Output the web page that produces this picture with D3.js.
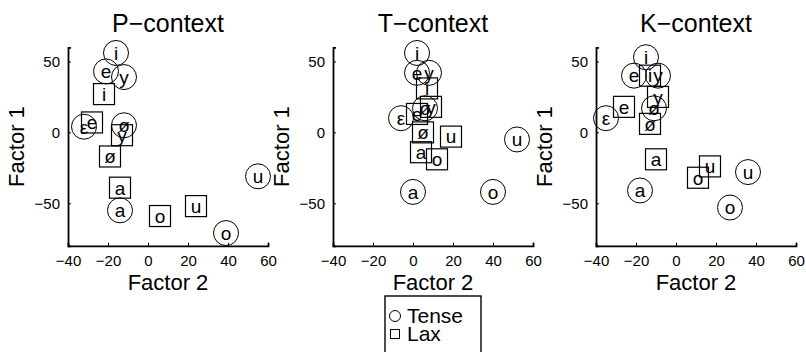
<!DOCTYPE html>
<html><head><meta charset="utf-8">
<script src="https://cdn.jsdelivr.net/npm/d3@7"></script>
<style>body{margin:0;background:#fff}svg{display:block}text{font-family:"Liberation Sans",Arial,sans-serif;fill:#000}</style>
</head><body><svg id="c" width="806" height="352"></svg>
<script>
const contexts = ["P\u2212context", "T\u2212context", "K\u2212context"];
const tenseVowels = ["i", "e", "y", "\u03b5", "\u00f8", "a", "o", "u"];
const laxVowels = ["i", "e", "y", "\u00f8", "a", "o", "u"];
// Factor 2 (x) and Factor 1 (y) per context
const tenseX = [[-16, -21, -12, -32, -12, -14, 39, 55], [2, 2, 8, -6, 6, 0, 40, 52], [-15, -21, -9, -35, -11, -18, 27, 36]];
const tenseY = [[56, 43, 39, 4, 5, -55, -71, -31], [56, 42, 42, 10, 17, -42, -42, -5], [53, 40, 40, 10, 17, -41, -53, -28]];
const laxX = [[-22, -28, -13, -19, -14, 6, 24], [7, 2, 9, 5, 4, 12, 19], [-13, -26, -9, -13, -10, 11, 17]];
const laxY = [[27, 7, -2, -17, -39, -59, -52], [31, 13, 18, 0, -14, -19, -3], [40, 18, 25, 6, -19, -32, -24]];
const xTicks = [-40, -20, 0, 20, 40, 60];
const yTicks = [-50, 0, 50];
const legendLabels = ["Tense", "Lax"];

const svg = d3.select("#c");
const panelLeft = [68, 333, 596];
const pw = 200, plotTop = 47.3, plotBottom = 245.8;
const fmt = d => d < 0 ? "\u2212" + Math.abs(d) : String(d);

contexts.forEach((name, k) => {
  const x = d3.scaleLinear().domain([-40, 60]).range([panelLeft[k], panelLeft[k] + pw]);
  const y = d3.scaleLinear().domain([-80, 60]).range([plotBottom, plotTop]);
  const g = svg.append("g");
  const xa = g.append("g").attr("transform", `translate(0,${plotBottom})`)
    .call(d3.axisBottom(x).tickValues(xTicks).tickSize(-3).tickPadding(10).tickFormat(fmt));
  const ya = g.append("g").attr("transform", `translate(${panelLeft[k]},0)`)
    .call(d3.axisLeft(y).tickValues(yTicks).tickSize(-3).tickPadding(8).tickFormat(fmt));
  [xa, ya].forEach(a => {
    a.select(".domain").attr("stroke", "#000").attr("stroke-width", 1.8);
    a.selectAll(".tick line").attr("stroke", "#000").attr("stroke-width", 1);
    a.selectAll("text").style("font-size", "15px").attr("fill", "#000");
  });
  xa.selectAll(".tick text").attr("dy", "0.71em");
  g.append("text").attr("x", x(10)).attr("y", 32).attr("text-anchor", "middle")
    .style("font-size", "25px").text(name);
  g.append("text").attr("x", x(10)).attr("y", 290).attr("text-anchor", "middle")
    .style("font-size", "22px").text("Factor 2");
  g.append("text").attr("transform", `translate(${panelLeft[k] - 44},${(plotTop + plotBottom) / 2}) rotate(-90)`)
    .attr("text-anchor", "middle").style("font-size", "22px").text("Factor 1");

  const tense = tenseVowels.map((v, i) => ({v, x: tenseX[k][i], y: tenseY[k][i]}));
  const lax = laxVowels.map((v, i) => ({v, x: laxX[k][i], y: laxY[k][i]}));
  g.selectAll(".tc").data(tense).join("circle")
    .attr("cx", d => x(d.x)).attr("cy", d => y(d.y)).attr("r", 12.5)
    .attr("fill", "none").attr("stroke", "#000").attr("stroke-width", 1);
  g.selectAll(".ls").data(lax).join("rect")
    .attr("x", d => x(d.x) - 10.5).attr("y", d => y(d.y) - 10.5).attr("width", 21).attr("height", 21)
    .attr("fill", "none").attr("stroke", "#000").attr("stroke-width", 1.2);
  g.selectAll(".tt").data(tense.concat(lax)).join("text")
    .attr("x", d => x(d.x)).attr("y", d => y(d.y)).attr("dy", "0.36em")
    .attr("text-anchor", "middle").style("font-size", "19px").text(d => d.v);
});

// legend
const lg = svg.append("g");
lg.append("rect").attr("x", 385).attr("y", 296).attr("width", 96).attr("height", 70)
  .attr("fill", "#fff").attr("stroke", "#000").attr("stroke-width", 1.4);
lg.append("circle").attr("cx", 395).attr("cy", 316).attr("r", 5.5).attr("fill", "none").attr("stroke", "#000");
lg.append("rect").attr("x", 390.5).attr("y", 329.5).attr("width", 9).attr("height", 9).attr("fill", "none").attr("stroke", "#000");
lg.selectAll(".lt").data(legendLabels).join("text")
  .attr("x", 407).attr("y", (d, i) => 323 + i * 18).style("font-size", "21px").text(d => d);
</script></body></html>
